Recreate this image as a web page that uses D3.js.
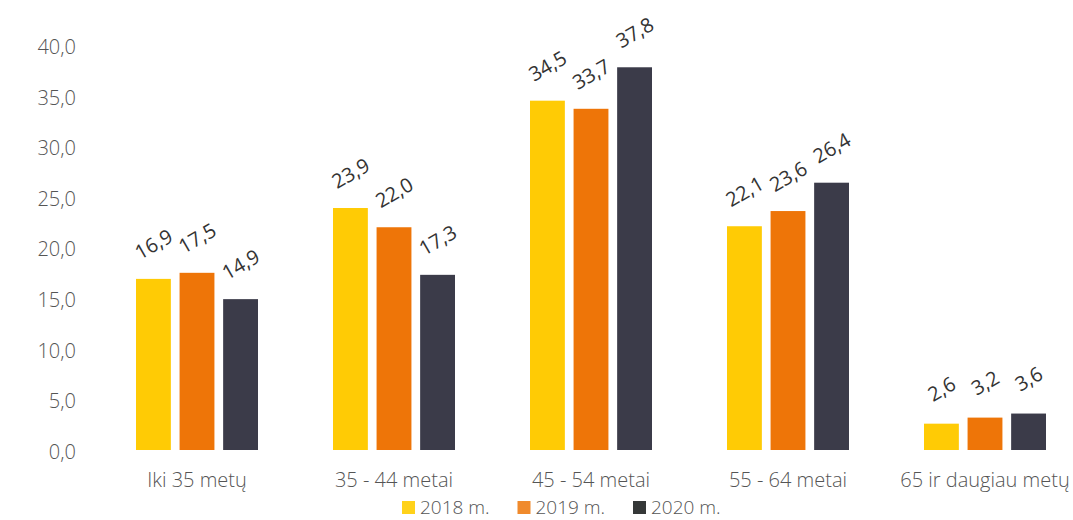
<!DOCTYPE html>
<html lang="lt">
<head>
<meta charset="utf-8">
<script src="https://cdn.jsdelivr.net/npm/d3@7"></script>
<style>
  html, body { margin: 0; padding: 0; background: #fff; }
  svg { display: block; font-family: "Open Sans", "Liberation Sans", sans-serif; }
</style>
</head>
<body>
<svg id="chart" width="1073" height="520"></svg>
<script>
// Age groups on the x axis
const categories = ["Iki 35 metų", "35 - 44 metai", "45 - 54 metai", "55 - 64 metai", "65 ir daugiau metų"];
// Years shown as separate bars within each group
const seriesNames = ["2018 m.", "2019 m.", "2020 m."];
// Share (%) per year, one array per series
const values2018 = [16.9, 23.9, 34.5, 22.1, 2.6];
const values2019 = [17.5, 22.0, 33.7, 23.6, 3.2];
const values2020 = [14.9, 17.3, 37.8, 26.4, 3.6];
// Y axis ticks
const yTicks = [0, 5, 10, 15, 20, 25, 30, 35, 40];

const seriesValues = [values2018, values2019, values2020];
const colors = ["#FFCB05", "#EE7508", "#3B3B49"];
const legendColors = ["#FFD21A", "#F08A2C", "#353838"];

const svg = d3.select("#chart");
const fmt = v => d3.format(".1f")(v).replace(".", ",");

const x0 = d3.scaleBand().domain(categories).range([98.5, 1083.5]).padding(0);
const groupWidth = 122;
const x1 = d3.scaleBand().domain(seriesNames).range([0, groupWidth]).paddingInner(0.2).paddingOuter(0);
const y = d3.scaleLinear().domain([0, 40]).range([450, 45]);

const groupOffset = (x0.bandwidth() - groupWidth) / 2;

// Y axis: labels only
const yAxis = svg.append("g")
  .attr("transform", "translate(76,2)")
  .call(d3.axisLeft(y).tickValues(yTicks).tickFormat(fmt).tickSize(0).tickPadding(0));
yAxis.select(".domain").remove();
yAxis.selectAll("text")
  .attr("font-family", "'Open Sans', sans-serif")
  .attr("font-weight", 300)
  .attr("font-size", 20)
  .attr("fill", "#555");

// X axis: category labels
const xAxis = svg.append("g")
  .attr("transform", "translate(0,450)")
  .call(d3.axisBottom(x0).tickSize(0).tickPadding(23));
xAxis.select(".domain").remove();
xAxis.selectAll("text")
  .attr("font-family", "'Open Sans', sans-serif")
  .attr("font-weight", 300)
  .attr("font-size", 20)
  .attr("fill", "#555");

// Bars and value labels
const rows = [];
categories.forEach((c, i) => {
  seriesNames.forEach((s, j) => {
    rows.push({ category: c, series: s, idx: j, value: seriesValues[j][i] });
  });
});

const groups = svg.append("g");
groups.selectAll("rect")
  .data(rows)
  .join("rect")
  .attr("x", d => x0(d.category) + groupOffset + x1(d.series))
  .attr("y", d => y(d.value))
  .attr("width", x1.bandwidth())
  .attr("height", d => y(0) - y(d.value))
  .attr("fill", d => colors[d.idx]);

groups.selectAll("text")
  .data(rows)
  .join("text")
  .attr("transform", d => {
    const cx = x0(d.category) + groupOffset + x1(d.series) + x1.bandwidth() / 2;
    const cy = y(d.value) - 35;
    return `translate(${cx},${cy}) rotate(-30)`;
  })
  .attr("text-anchor", "middle")
  .attr("dominant-baseline", "central")
  .attr("font-family", "'Open Sans', sans-serif")
  .attr("font-size", 20)
  .attr("fill", "#333")
  .text(d => fmt(d.value));

// Legend
const legend = svg.append("g").attr("transform", "translate(402,507)");
const item = legend.selectAll("g")
  .data(seriesNames)
  .join("g")
  .attr("transform", (d, i) => `translate(${i * 115.5},0)`);
item.append("rect")
  .attr("x", 0).attr("y", -6)
  .attr("width", 13).attr("height", 13)
  .attr("fill", (d, i) => legendColors[i]);
item.append("text")
  .attr("x", 18).attr("y", 0)
  .attr("dominant-baseline", "central")
  .attr("font-family", "'Open Sans', sans-serif")
  .attr("font-weight", 300)
  .attr("font-size", 19)
  .attr("fill", "#555")
  .text(d => d);
</script>
</body>
</html>
